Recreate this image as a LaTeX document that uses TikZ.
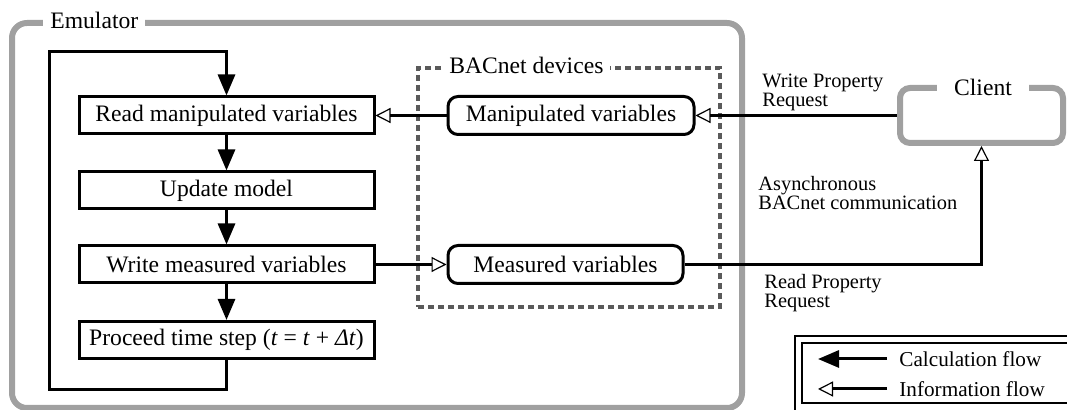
\documentclass[tikz,border=0pt]{standalone}
\usepackage{fontspec}
\setmainfont{Liberation Serif}
\usepackage{xcolor}
\definecolor{framegray}{HTML}{A0A0A0}
\definecolor{dashgray}{HTML}{5A5A5A}
\usetikzlibrary{arrows.meta,positioning,calc}
\newcommand{\mainsize}{\fontsize{11.8}{14}\selectfont}
\newcommand{\notesize}{\fontsize{10.2}{9.6}\selectfont}
\newcommand{\keysize}{\fontsize{10.6}{12}\selectfont}

\begin{document}
\begin{tikzpicture}[x=0.5pt, y=-0.5pt,
    stepbox/.style={rectangle, draw=black, fill=white, line width=1.5pt, minimum width=147.5pt, minimum height=18.5pt, inner sep=0pt, font=\mainsize},
    varbox/.style={rectangle, rounded corners=5pt, draw=black, fill=white, line width=1.5pt, minimum height=19pt, inner sep=0pt, font=\mainsize},
    emuframe/.style={rectangle, rounded corners=7.5pt, draw=framegray, line width=3pt, inner sep=0pt},
    devframe/.style={rectangle, draw=dashgray, dash pattern=on 3pt off 2pt, line width=1.7pt, inner sep=0pt},
    framelabel/.style={fill=white, inner ysep=1pt, inner xsep=3.5pt, font=\mainsize},
    notelabel/.style={anchor=west, align=left, inner sep=0pt, font=\notesize},
    keylabel/.style={anchor=west, inner sep=0pt, font=\keysize},
    calcflow/.style={-{Triangle[length=10.5pt, width=8.5pt]}, line width=1.5pt},
    infoflow/.style={-{Triangle[open, length=7.5pt, width=7.5pt, line width=0.6pt]}, line width=1.5pt},
  ]
    \useasboundingbox (0,0) rectangle (1067,410);
    \clip (0,0) rectangle (1067,410);

    % frames
    \node[emuframe, minimum width=365pt, minimum height=192.5pt] (emulator) at (377,215.5) {};
    \node[framelabel, anchor=west] (emulabel) at (43,20) {Emulator};
    \node[devframe, minimum width=151pt, minimum height=119.5pt] (devices) at (569,187.5) {};
    \node[framelabel, anchor=west] (devlabel) at (442,65) {BACnet devices};
    \node[emuframe, rounded corners=5pt, minimum width=81.5pt, minimum height=27.5pt] (client) at (981.5,115.5) {};
    \node[framelabel, inner xsep=8.5pt] (clientlabel) at (983,87) {Client};

    % calculation steps
    \node[stepbox] (read) at (226.5,115.5) {Read manipulated variables};
    \node[stepbox] (update) at (226.5,190.5) {Update model};
    \node[stepbox] (write) at (226.5,264.5) {Write measured variables};
    \node[stepbox] (proceed) at (226.5,340) {Proceed time step (\textit{t} = \textit{t} + \textit{Δt})};

    % BACnet objects
    \node[varbox, minimum width=123pt] (manip) at (571,115.5) {Manipulated variables};
    \node[varbox, minimum width=117.5pt] (meas) at (565.5,264.5) {Measured variables};

    \coordinate (looptop) at (49,52);
    \draw[calcflow] (read) -- (update);
    \draw[calcflow] (update) -- (write);
    \draw[calcflow] (write) -- (proceed);
    \draw[calcflow] (proceed.south) -- ++(0,30) -| (looptop) -| (read.north);

    \draw[infoflow] (manip.west) -- (read.east);
    \draw[infoflow] (write.east) -- (meas.west);
    \draw[infoflow] (client.west) -- (manip.east);
    \draw[infoflow] (meas.east) -| (client.south);

    \node[notelabel] (wpr) at (762,92.5) {Write Property\\Request};
    \node[notelabel] (async) at (758,193) {Asynchronous\\BACnet communication};
    \node[notelabel] (rpr) at (764,293) {Read Property\\Request};

    % legend
    \draw[line width=1pt] (795,336) rectangle (1090,420);
    \draw[line width=0.7pt] (802,343) rectangle (1085,403);
    \node[keylabel] (calctext) at (899,359) {Calculation flow};
    \node[keylabel] (infotext) at (899,389) {Information flow};
    \coordinate (calcstart) at (887,359);
    \coordinate (calcend) at (818,359);
    \coordinate (infostart) at (887,389);
    \coordinate (infoend) at (818,389);
    \draw[calcflow] (calcstart) -- (calcend);
    \draw[infoflow] (infostart) -- (infoend);
  \end{tikzpicture}
\end{document}
